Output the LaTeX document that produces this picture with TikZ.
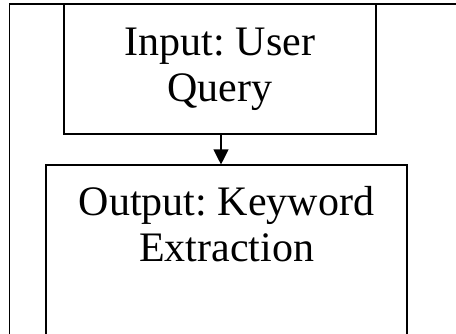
\documentclass[tikz,border=0pt]{standalone}
\usepackage{fontspec}
\setmainfont{Liberation Serif}
\usetikzlibrary{arrows.meta}
\frenchspacing

\begin{document}
\begin{tikzpicture}[x=1pt, y=1pt, line width=1.1pt,
    box/.style={draw, align=center, inner sep=0pt, font=\fontsize{42}{46}\selectfont},
    flow/.style={-{Triangle[width=15pt, length=15pt]}}]
    \useasboundingbox (0,0) rectangle (456,333);
    \clip (0,0) rectangle (456,333);

    % outer frame
    \draw (9.5,-20) rectangle (470,329);

    % input and output boxes
    \node[box, minimum width=312pt, minimum height=130pt] (query) at (220,264) {Input: User\\Query};
    \node[draw, minimum width=361pt, minimum height=188pt] (extract) at (226.5,74) {};
    \node[box, draw=none] (extracttext) at (226.5,108.5) {Output: Keyword\\Extraction};

    \draw[flow] ([xshift=1pt]query.south) -- ([xshift=1pt]query.south |- extract.north);
\end{tikzpicture}
\end{document}
